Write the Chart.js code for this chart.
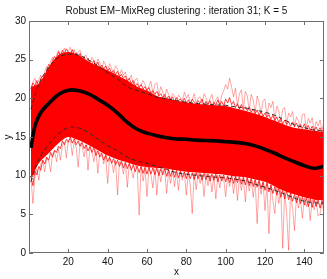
<!DOCTYPE html>
<html>
<head>
<meta charset="utf-8">
<script src="https://cdn.jsdelivr.net/npm/chart.js@4"></script>
<style>
html,body{margin:0;padding:0;background:#fff;}
canvas{display:block;}
</style>
</head>
<body>
<canvas id="c" width="327" height="279"></canvas>
<script>
// ---- data ----
const titleText = "Robust EM\u2212MixReg clustering : iteration 31; K = 5";
const xLabel = "x";
const yLabel = "y";
const xTicks = [20, 40, 60, 80, 100, 120, 140];
const yTicks = [0, 5, 10, 15, 20, 25, 30];

const meanX = [1,3,5,7,10,15,20,25,30,35,40,45,50,55,60,65,70,75,80,85,90,95,100,105,110,115,120,125,130,135,140,145,150];
const meanCurve = [13.6,16.4,17.7,18.5,19.3,20.5,21.05,21.0,20.6,19.9,19.1,18.1,16.9,16.0,15.5,15.15,14.9,14.75,14.7,14.6,14.55,14.5,14.4,14.3,14.15,13.85,13.4,12.9,12.3,11.8,11.3,10.95,11.2];

const bandX = [1,5,10,15,20,25,30,35,40,45,50,55,60,65,70,75,80,85,90,95,100,105,110,115,120,125,130,135,140,145,150];
const upperBound = [18.6,21.8,24.0,25.3,25.7,25.6,25.0,24.2,23.3,22.5,21.5,21.0,20.6,20.15,19.95,19.7,19.5,19.35,19.25,19.15,19.1,18.9,18.75,18.5,18.2,17.8,17.2,16.6,16.2,15.9,15.75];
const lowerBound = [9.2,12.1,14.0,15.4,16.2,16.2,15.6,14.7,13.9,13.2,12.4,11.9,11.6,11.2,10.8,10.4,10.2,10.05,9.9,9.8,9.7,9.55,9.3,8.9,8.5,8.1,7.6,7.1,6.7,6.5,6.4];
const bandTop = [21.5,21.9,24.0,25.6,26.0,25.6,24.8,24.2,23.6,23.0,22.3,21.5,21.0,20.3,20.0,19.7,19.5,19.3,19.2,19.1,19.0,18.7,18.4,18.0,17.6,17.1,16.6,16.2,16.0,15.8,15.6];
const bandBottom = [9.5,11.6,12.9,14.2,15.0,14.6,14.0,13.3,12.6,12.1,11.7,11.3,11.1,11.0,10.9,10.7,10.5,10.4,10.3,10.2,10.1,9.9,9.8,9.5,9.2,8.6,8.0,7.6,7.2,6.9,6.8];

const fringeX = Array.from({length: 150}, (_, i) => i + 1);
// curves just outside the dense band (upper side): inner edge and outer pale curves
const upperEdge = [
21.2,22.0,21.6,22.3,21.5,22.6,22.9,22.3,23.6,24.4,
24.0,24.9,25.4,25.0,26.0,25.6,26.2,25.8,26.4,26.0,
25.7,26.3,25.6,25.9,25.3,25.8,25.0,25.4,24.7,25.2,
24.6,24.4,24.9,24.2,24.7,23.9,24.3,23.8,24.2,23.5,
23.9,23.3,23.6,23.1,23.5,22.8,23.1,22.6,22.9,22.2,
22.6,21.9,22.3,21.6,21.9,21.4,21.8,21.2,21.5,21.0,
21.4,20.7,21.0,20.5,20.9,20.3,20.6,20.1,20.5,19.9,
20.3,19.8,20.2,19.6,20.1,19.7,19.9,19.5,20.0,19.4,
19.8,19.3,19.9,19.5,19.2,19.7,19.4,19.9,19.1,19.6,
19.2,19.7,19.0,19.5,19.1,19.8,19.2,19.6,19.0,19.9,
19.4,20.1,19.2,19.6,18.8,19.3,18.6,19.2,18.5,18.9,
18.4,18.9,18.2,18.6,18.0,18.5,17.8,18.3,17.7,18.1,
17.5,17.9,17.3,17.8,17.1,17.6,16.9,17.4,16.7,17.2,
16.6,17.0,16.4,16.9,16.3,16.8,16.2,16.6,16.1,16.7,
16.0,16.5,15.9,16.4,15.8,16.3,15.7,16.2,15.6,16.1];
const upperOuter = [
21.3,22.1,22.6,21.6,22.4,23.0,21.9,23.5,24.1,23.2,
24.8,25.3,24.3,25.6,26.2,25.3,26.0,26.5,25.8,26.1,
26.6,25.7,26.3,25.4,26.0,26.2,25.0,25.4,25.6,24.8,
24.6,25.3,24.9,24.1,25.1,24.6,23.7,24.8,24.3,23.6,
24.5,23.9,23.2,24.2,23.8,22.9,23.7,23.0,23.4,22.4,
22.5,23.0,21.8,22.4,22.6,21.4,21.7,22.3,21.8,21.0,
21.6,22.2,20.6,21.8,22.0,20.4,21.5,20.8,20.1,21.2,
20.5,19.9,20.6,20.3,19.7,20.4,20.1,19.6,20.8,20.0,
20.5,19.4,19.8,20.6,19.4,20.0,20.2,19.3,20.6,20.1,
19.3,19.9,20.5,19.2,19.8,20.2,19.1,20.4,21.0,21.8,
21.2,22.6,21.5,20.2,21.3,19.0,20.6,21.1,18.6,20.9,
20.3,18.4,20.5,19.8,18.1,20.3,19.4,18.0,19.7,19.9,
17.6,19.4,18.8,19.6,17.2,19.0,18.4,16.9,18.6,18.8,
16.7,18.1,17.6,18.3,16.4,17.6,17.1,16.2,17.9,18.0,
16.1,17.4,16.8,17.5,15.9,17.0,16.4,17.2,15.8,17.0];
// lower side: inner edge and pale downward spikes
const lowerEdge = [
9.9,8.7,10.6,10.1,11.2,10.7,12.0,11.5,12.4,12.0,
13.0,12.4,13.3,13.0,13.8,13.5,14.5,14.0,14.7,14.3,
15.0,14.2,14.8,14.0,14.5,13.8,14.3,13.5,14.0,13.2,
13.8,13.0,13.6,12.6,13.2,12.4,12.9,12.0,12.7,11.8,
12.4,11.6,12.2,11.4,12.0,11.2,11.9,11.0,11.7,10.9,
11.6,10.7,11.4,10.5,11.3,10.4,11.2,10.3,11.1,10.2,
11.1,10.2,11.0,10.1,11.0,10.0,10.9,10.1,10.9,9.9,
10.8,9.9,10.8,9.8,10.7,9.7,10.6,9.8,10.5,9.6,
10.5,9.6,10.4,9.5,10.4,9.6,10.3,9.4,10.3,9.5,
10.2,9.3,10.2,9.4,10.2,9.2,10.1,9.3,10.1,9.2,
10.0,9.1,10.0,9.0,9.9,9.1,9.9,8.9,9.8,8.8,
9.8,8.7,9.7,8.6,9.5,8.5,9.4,8.3,9.2,8.1,
9.1,7.9,8.8,7.7,8.6,7.5,8.4,7.2,8.1,7.0,
8.0,6.9,7.8,6.7,7.6,6.5,7.5,6.4,7.2,6.2,
7.1,6.0,7.0,5.9,6.9,6.0,6.9,5.8,6.8,5.9];
const lowerSpikes = [
9.6,6.4,9.8,10.9,9.4,11.6,12.0,10.5,12.3,11.9,
10.5,12.8,13.2,11.8,13.5,12.0,14.0,14.3,12.3,14.6,
14.8,12.6,14.5,13.6,11.1,14.2,13.8,12.4,13.9,10.7,
13.7,13.2,11.8,13.4,10.3,13.0,12.7,11.5,12.6,9.0,
12.3,11.8,10.4,12.0,7.5,11.8,11.6,10.2,11.7,8.5,
11.5,10.9,9.7,11.3,11.2,4.9,11.2,9.3,10.9,7.3,
11.0,10.1,8.4,10.9,7.5,10.8,9.2,10.7,10.8,7.7,
10.6,9.0,10.7,8.6,10.5,8.1,10.6,9.4,10.4,7.5,
10.4,8.8,5.1,10.3,8.2,10.3,9.0,10.2,7.3,10.2,
8.7,10.1,7.9,10.0,7.0,10.1,8.4,10.0,9.6,7.3,
9.9,8.6,9.9,7.7,9.8,6.8,9.7,8.1,9.7,6.6,
9.6,8.0,9.5,7.2,9.4,3.8,9.3,7.6,9.1,5.5,
9.0,2.5,8.8,6.8,5.1,8.5,6.4,8.2,0.6,7.9,
5.3,0.35,7.7,5.8,2.9,7.4,5.8,7.2,4.5,7.1,
6.0,7.0,4.2,6.9,5.6,6.8,4.8,5.1,6.7,5.1];

// ---- helpers ----
const pts = (xs, ys) => xs.map((x, i) => ({x: x, y: ys[i]}));
const FONT = "'Liberation Sans', Arial, Helvetica, sans-serif";

const frame = {
  id: 'frame',
  afterDraw(chart) {
    const {ctx, chartArea: a, scales} = chart;
    ctx.save();
    ctx.strokeStyle = '#6e6e6e';
    ctx.lineWidth = 1;
    ctx.beginPath();
    ctx.rect(a.left + 0.5, a.top + 0.5, a.right - a.left - 1, a.bottom - a.top - 1);
    const L = 4;
    xTicks.forEach(v => {
      const px = Math.round(scales.x.getPixelForValue(v)) + 0.5;
      ctx.moveTo(px, a.bottom); ctx.lineTo(px, a.bottom - L);
      ctx.moveTo(px, a.top); ctx.lineTo(px, a.top + L);
    });
    yTicks.forEach(v => {
      const py = Math.round(scales.y.getPixelForValue(v)) + 0.5;
      ctx.moveTo(a.left, py); ctx.lineTo(a.left + L, py);
      ctx.moveTo(a.right, py); ctx.lineTo(a.right - L, py);
    });
    ctx.stroke();
    ctx.restore();
  }
};

const redLine = (label, ys, color, order) => ({
  label: label, data: pts(fringeX, ys), borderColor: color, borderWidth: 1,
  pointRadius: 0, tension: 0, fill: false, order: order
});

new Chart(document.getElementById('c'), {
  type: 'line',
  data: {
    datasets: [
      { label: 'mean', data: pts(meanX, meanCurve), borderColor: '#000', borderWidth: 3.6,
        pointRadius: 0, tension: 0.4, fill: false, order: 0 },
      { label: 'upper', data: pts(bandX, upperBound), borderColor: '#2a2a2a', borderWidth: 1,
        borderDash: [4, 3], pointRadius: 0, tension: 0.4, fill: false, order: 1 },
      { label: 'lower', data: pts(bandX, lowerBound), borderColor: '#2a2a2a', borderWidth: 1,
        borderDash: [4, 3], pointRadius: 0, tension: 0.4, fill: false, order: 1 },
      { label: 'bandBottom', data: pts(bandX, bandBottom), borderColor: 'rgba(255,0,0,0)', borderWidth: 0,
        pointRadius: 0, tension: 0.3, fill: false, order: 3 },
      { label: 'bandTop', data: pts(bandX, bandTop), borderColor: 'rgba(255,0,0,0)', borderWidth: 0,
        backgroundColor: '#ff0000', pointRadius: 0, tension: 0.3, fill: 3, order: 3 },
      redLine('upperEdge', upperEdge, 'rgba(255,0,0,0.75)', 4),
      redLine('lowerEdge', lowerEdge, 'rgba(255,0,0,0.75)', 4),
      redLine('upperOuter', upperOuter, 'rgba(255,0,0,0.35)', 5),
      redLine('lowerSpikes', lowerSpikes, 'rgba(255,0,0,0.35)', 5)
    ]
  },
  options: {
    responsive: false,
    animation: false,
    events: [],
    layout: { padding: { left: 0, right: 3, top: 0, bottom: 0 } },
    plugins: {
      legend: { display: false },
      tooltip: { enabled: false },
      title: { display: true, text: titleText, fullSize: false, color: '#111',
        font: { family: FONT, size: 10, weight: 'normal', lineHeight: 1.2 },
        padding: { top: 5, bottom: 4 } }
    },
    scales: {
      x: { type: 'linear', min: 0, max: 150,
        afterBuildTicks: s => { s.ticks = xTicks.map(v => ({value: v})); },
        afterFit: s => { s.height = 26; },
        grid: { display: false, drawTicks: false }, border: { display: false },
        ticks: { color: '#111', padding: 3, maxRotation: 0, autoSkip: false,
          font: { family: FONT, size: 10 } },
        title: { display: true, text: xLabel, color: '#111', padding: { top: 0, bottom: 1 },
          font: { family: FONT, size: 10 } } },
      y: { type: 'linear', min: 0, max: 30,
        afterBuildTicks: s => { s.ticks = yTicks.map(v => ({value: v})); },
        afterFit: s => { s.width = 29; },
        grid: { display: false, drawTicks: false }, border: { display: false },
        ticks: { color: '#111', padding: 3, autoSkip: false,
          font: { family: FONT, size: 10 } },
        title: { display: true, text: yLabel, color: '#111', padding: { top: 2, bottom: 0 },
          font: { family: FONT, size: 10 } } }
    }
  },
  plugins: [frame]
});
</script>
</body>
</html>
